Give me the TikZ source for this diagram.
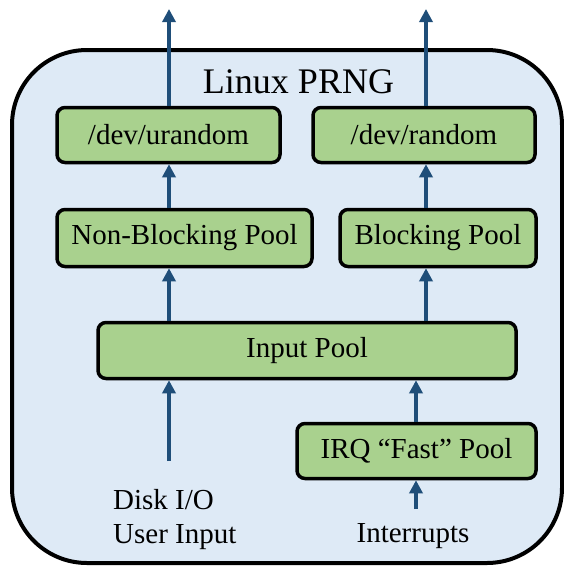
\documentclass[tikz,border=0pt]{standalone}
\usepackage{fontspec}
\setmainfont{Liberation Serif}
\usetikzlibrary{arrows.meta}
\definecolor{bgblue}{HTML}{DEEAF6}
\definecolor{boxgreen}{HTML}{A9D18E}
\definecolor{arrblue}{HTML}{1F4E79}
\begin{document}
\begin{tikzpicture}[x=1pt,y=-1pt,
  pool/.style={draw=black, line width=3.5pt, fill=boxgreen, rounded corners=8pt,
    inner sep=0pt, font=\fontsize{29}{33}\selectfont},
  flow/.style={draw=arrblue, line width=4pt, -{Triangle[length=13pt,width=13pt]}},
  lbl/.style={font=\fontsize{29}{33}\selectfont, inner sep=0pt}]
\useasboundingbox (0,0) rectangle (564,566);
\draw[line width=4pt, fill=bgblue, rounded corners=75pt] (12,50) rectangle (562,563);
\node[font=\fontsize{36}{40}\selectfont, anchor=base, inner sep=0pt] (title) at (298.5,93) {Linux PRNG};

\node[pool, minimum width=223pt, minimum height=55pt] (urand) at (168.5,135) {/dev/urandom};
\node[pool, minimum width=222pt, minimum height=55pt] (rand) at (424,135) {/dev/random};
\node[pool, minimum width=255pt, minimum height=57pt] (nb) at (184.5,238) {Non-Blocking Pool};
\node[pool, minimum width=196pt, minimum height=57pt] (bp) at (438,238) {Blocking Pool};
\node[pool, minimum width=418pt, minimum height=56pt] (inp) at (307,350.5) {Input Pool};
\node[pool, minimum width=239pt, minimum height=55pt] (irq) at (416.5,451) {IRQ “Fast” Pool};

\node[lbl, anchor=base west] (disk) at (113,509) {Disk I/O};
\node[lbl, anchor=base west] (user) at (113,543) {User Input};
\node[lbl, anchor=base] (intr) at (413,542) {Interrupts};

\coordinate (colL) at (169,0);
\coordinate (colR) at (426,0);
\coordinate (colI) at (416,0);
\coordinate (outU) at (169,9);
\coordinate (outR) at (426,9);
\coordinate (srcD) at (169,461);
\coordinate (srcI) at (416,509);

\draw[flow] (urand.north -| colL) -- (outU);
\draw[flow] (rand.north -| colR) -- (outR);
\draw[flow] (nb.north -| colL) -- (urand.south -| colL);
\draw[flow] (bp.north -| colR) -- (rand.south -| colR);
\draw[flow] (inp.north -| colL) -- (nb.south -| colL);
\draw[flow] (inp.north -| colR) -- (bp.south -| colR);
\draw[flow] (srcD) -- (inp.south -| colL);
\draw[flow] (irq.north -| colI) -- (inp.south -| colI);
\draw[flow] (srcI) -- (irq.south -| colI);
\end{tikzpicture}
\end{document}
